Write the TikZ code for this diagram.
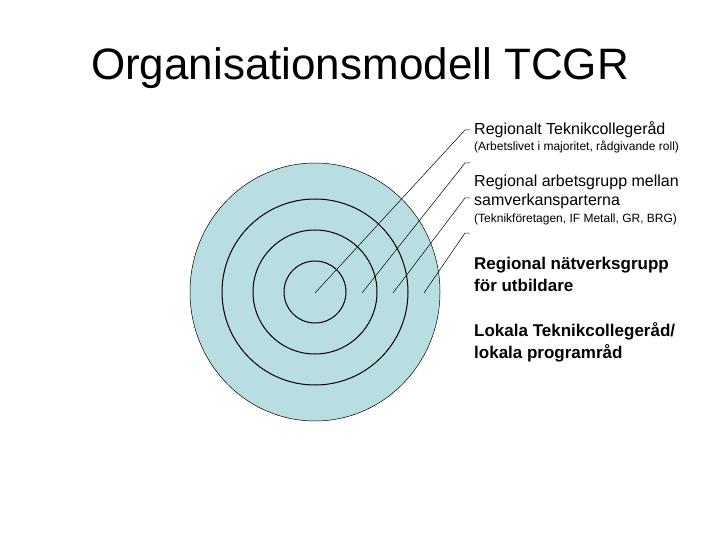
\documentclass[tikz,border=0pt]{standalone}
\usepackage{fontspec}
\setmainfont{Liberation Sans}
\definecolor{ringblue}{HTML}{B9DEE2}
\tikzset{
  lbl/.style={anchor=west,inner sep=0pt,align=left,font=\fontsize{16}{19}\selectfont},
  note/.style={anchor=west,inner sep=0pt,font=\fontsize{12}{13}\selectfont},
  boldlbl/.style={lbl,font=\fontsize{17}{22}\selectfont\bfseries},
}
\begin{document}
\begin{tikzpicture}[x=1pt,y=-1pt]
\useasboundingbox (0,0) rectangle (720,540);
\node[inner sep=0pt,font=\fontsize{44}{50}\selectfont] (title) at (360,68) {Organisationsmodell TCGR};
% rings
\fill[ringblue,draw=black,line width=0.5pt] (315,292) ellipse (125 and 129);
\draw[line width=1pt] (315,292) circle (93);
\draw[line width=1pt] (315,292) circle (62);
\draw[line width=1pt] (315,292) circle (31);
\coordinate (C1) at (315,293);
\coordinate (C2) at (362,293);
\coordinate (C3) at (393,293);
\coordinate (C4) at (424,293);
\coordinate (K1) at (465,130);
\coordinate (K2) at (465,163);
\coordinate (K3) at (465,198);
\coordinate (K4) at (465,233);
\foreach \i in {1,...,4}
  \draw[line width=0.5pt] (C\i) -- (K\i) -- ++(5,0);
% labels
\node[lbl] (l1) at (474,130) {Regionalt Teknikcollegeråd};
\node[note] (n1) at (474,147) {(Arbetslivet i majoritet, rådgivande roll)};
\node[lbl,anchor=north west] (l2) at (474,175) {Regional arbetsgrupp mellan\\samverkansparterna};
\node[note] (n2) at (474,219) {(Teknikföretagen, IF Metall, GR, BRG)};
\node[boldlbl,anchor=north west] (l3) at (474,257) {Regional nätverksgrupp\\för utbildare};
\node[boldlbl,anchor=north west] (l4) at (474,322) {Lokala Teknikcollegeråd/\\lokala programråd};
\end{tikzpicture}
\end{document}
